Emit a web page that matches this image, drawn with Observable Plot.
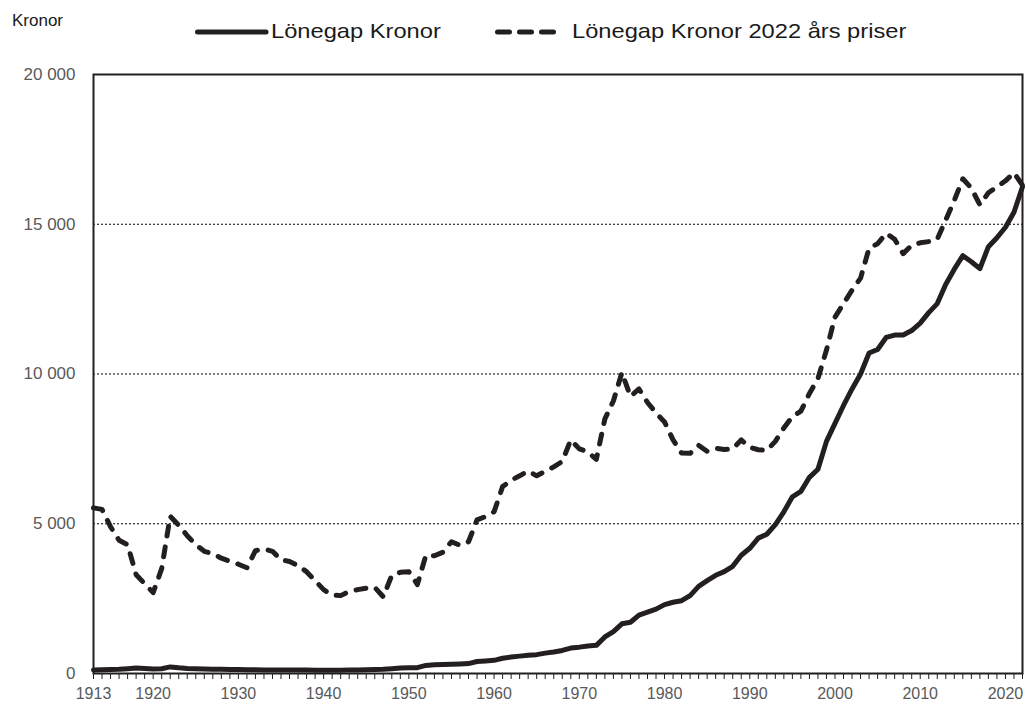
<!DOCTYPE html>
<html>
<head>
<meta charset="utf-8">
<script src="https://cdn.jsdelivr.net/npm/d3@7"></script>
<script src="https://cdn.jsdelivr.net/npm/@observablehq/plot@0.6"></script>
<style>
  body { margin: 0; background: #fff; font-family: "Liberation Sans", Arial, sans-serif; }
  #legend { display: block; }
</style>
</head>
<body>
<svg id="legend" width="1026" height="50"></svg>
<div id="chart"></div>
<script>
const years = d3.range(1913, 2023);

const nominal = [
  120, 125, 130, 140, 160, 180, 170, 150, 160, 220,   // 1913-1922
  190, 170, 160, 150, 145, 140, 135, 130, 125, 125,   // 1923-1932
  120, 120, 120, 120, 120, 115, 110, 105, 105, 110,   // 1933-1942
  115, 120, 125, 130, 140, 160, 180, 190, 195, 270,   // 1943-1952
  290, 300, 310, 320, 330, 400, 420, 440, 510, 550,   // 1953-1962
  580, 610, 630, 680, 720, 770, 850, 880, 920, 940,   // 1963-1972
  1220, 1400, 1660, 1710, 1950, 2050, 2150, 2300, 2380, 2430, // 1973-1982
  2600, 2910, 3100, 3280, 3400, 3580, 3950, 4180, 4520, 4650, // 1983-1992
  4970, 5400, 5900, 6080, 6550, 6820, 7750, 8350, 8950, 9500, // 1993-2002
  10000, 10700, 10820, 11220, 11300, 11300, 11450, 11700, 12050, 12350, // 2003-2012
  13000, 13500, 13950, 13750, 13520, 14250, 14550, 14900, 15400, 16250  // 2013-2022
];

const real2022 = [
  5530, 5480, 4900, 4450, 4300, 3300, 3000, 2700, 3500, 5250,   // 1913-1922
  4950, 4600, 4300, 4080, 4000, 3850, 3750, 3650, 3530, 4100,   // 1923-1932
  4160, 4080, 3800, 3740, 3600, 3400, 3100, 2800, 2620, 2600,   // 1933-1942
  2740, 2800, 2850, 2880, 2560, 3280, 3380, 3400, 2970, 3950,   // 1943-1952
  3930, 4050, 4400, 4280, 4400, 5130, 5240, 5400, 6240, 6450,   // 1953-1962
  6600, 6760, 6600, 6750, 6900, 7080, 7800, 7500, 7400, 7150,   // 1963-1972
  8500, 9100, 10050, 9250, 9500, 9050, 8700, 8400, 7800, 7360,  // 1973-1982
  7350, 7620, 7420, 7520, 7480, 7500, 7800, 7550, 7470, 7450,   // 1983-1992
  7750, 8200, 8580, 8760, 9350, 9850, 10800, 11900, 12350, 12800, // 1993-2002
  13200, 14200, 14350, 14700, 14500, 14020, 14300, 14380, 14420, 14500, // 2003-2012
  15150, 15800, 16520, 16200, 15650, 16050, 16250, 16450, 16720, 16300  // 2013-2022
];

const yTicks = [0, 5000, 10000, 15000, 20000];
const gridValues = [5000, 10000, 15000];
const xLabelTicks = [1913, 1920, 1930, 1940, 1950, 1960, 1970, 1980, 1990, 2000, 2010, 2020];

const seriesNames = ["Lönegap Kronor", "Lönegap Kronor 2022 års priser"];
const yUnit = "Kronor";

const nominalData = years.map((y, i) => ({year: y, value: nominal[i]}));
const realData = years.map((y, i) => ({year: y, value: real2022[i]}));

const ink = "#231f20";
const gray = "#595959";
const fmt = v => d3.format(",")(v).replace(/,/g, " ");

// Legend (SVG above the chart)
const legend = document.getElementById("legend");
legend.innerHTML = `
  <text x="12" y="26" font-size="17" fill="#1a1a1a" font-family="Liberation Sans, Arial, sans-serif">${yUnit}</text>
  <line x1="197.5" y1="32" x2="266" y2="32" stroke="${ink}" stroke-width="5" stroke-linecap="round"/>
  <text transform="translate(271,38) scale(1.185,1)" font-size="20" fill="#1a1a1a" font-family="Liberation Sans, Arial, sans-serif">${seriesNames[0]}</text>
  <line x1="497.5" y1="32" x2="556" y2="32" stroke="${ink}" stroke-width="5" stroke-linecap="round" stroke-dasharray="12,10"/>
  <text transform="translate(572,38) scale(1.185,1)" font-size="20" fill="#1a1a1a" font-family="Liberation Sans, Arial, sans-serif">${seriesNames[1]}</text>
`;

const chart = Plot.plot({
  width: 1026,
  height: 654,
  marginTop: 24,
  marginBottom: 31,
  marginLeft: 93,
  marginRight: 4,
  style: {fontFamily: "Liberation Sans, Arial, sans-serif", background: "#fff", overflow: "visible"},
  x: {domain: [1913, 2022]},
  y: {domain: [0, 20000]},
  marks: [
    Plot.ruleY(gridValues, {stroke: "#000", strokeWidth: 1, strokeDasharray: "2,2"}),
    Plot.axisY(yTicks, {tickSize: 0, tickPadding: 18, tickFormat: fmt, fontSize: 17, fill: gray, label: null}),
    Plot.axisX(years, {tickSize: 6, tickFormat: () => "", stroke: ink, strokeWidth: 1, label: null}),
    Plot.axisX(xLabelTicks, {tickSize: 0, tickPadding: 14, tickFormat: d => String(d), fontSize: 16, fill: gray, label: null}),
    Plot.lineY(realData, {x: "year", y: "value", stroke: ink, strokeWidth: 5, strokeDasharray: "10,11", strokeLinecap: "round", strokeLinejoin: "round"}),
    Plot.lineY(nominalData, {x: "year", y: "value", stroke: ink, strokeWidth: 5, strokeLinejoin: "round"}),
    Plot.frame({stroke: ink, strokeWidth: 2})
  ]
});
document.getElementById("chart").appendChild(chart);
</script>
</body>
</html>
